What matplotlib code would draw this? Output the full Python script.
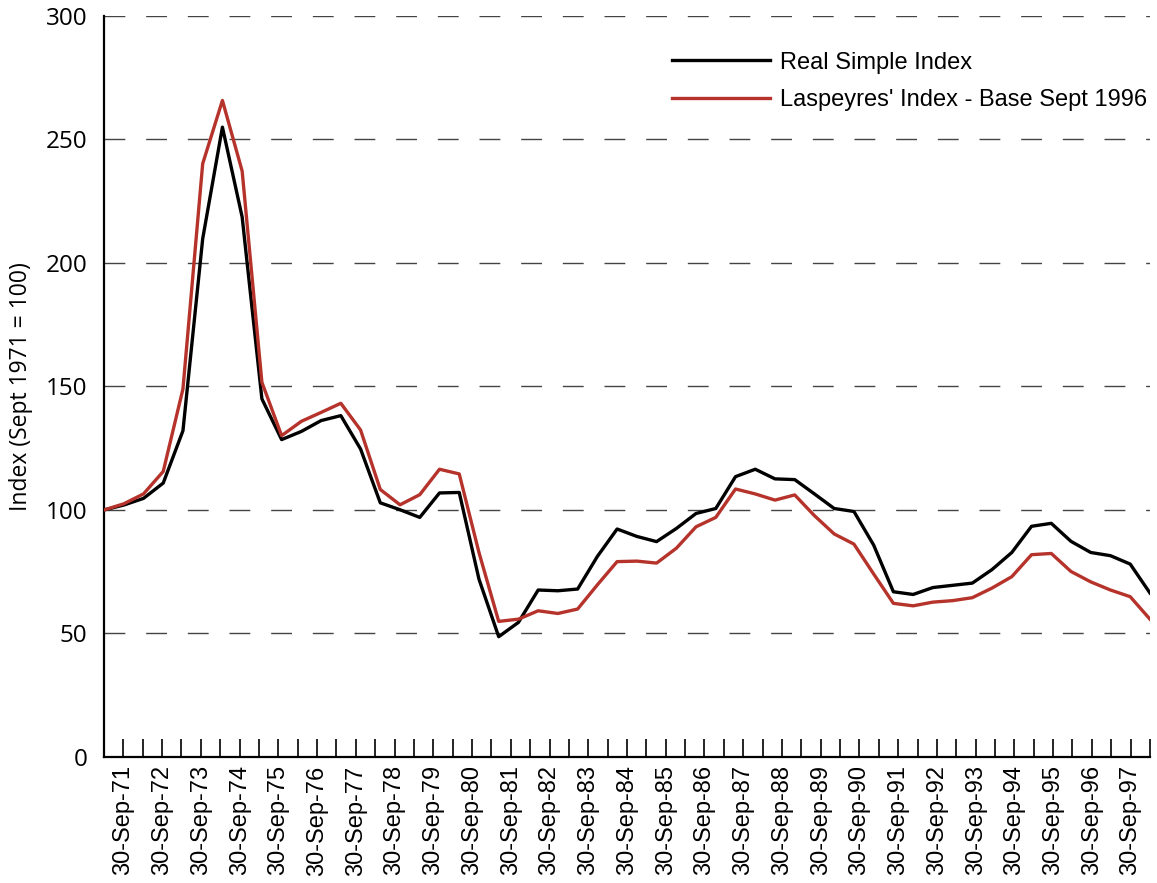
import numpy as np
import matplotlib
matplotlib.use("Agg")
import matplotlib.pyplot as plt

# semi-annual observations, first point = Sept 1971 = 100
real_simple = [100, 102.0, 104.7, 110.9, 132.1, 209.8, 255.0, 218.6, 145.0, 128.5,
               131.8, 136.2, 138.2, 124.7, 102.9, 100.1, 97.0, 106.9, 107.1, 72.0,
               48.7, 54.5, 67.6, 67.3, 68.0, 81.2, 92.3, 89.3, 87.2, 92.5,
               98.6, 100.6, 113.5, 116.5, 112.6, 112.3, 106.5, 100.6, 99.4, 85.8,
               66.9, 65.8, 68.6, 69.5, 70.4, 75.9, 82.8, 93.4, 94.6, 87.3,
               82.8, 81.5, 78.1, 66.4]
laspeyres = [100, 102.5, 106.5, 115.6, 149.0, 240.2, 265.8, 237.2, 151.7, 130.1,
             135.9, 139.5, 143.2, 132.4, 108.3, 102.1, 106.2, 116.5, 114.6, 82.8,
             54.9, 55.8, 59.2, 58.1, 59.9, 69.7, 79.1, 79.3, 78.5, 84.5,
             93.2, 97.0, 108.5, 106.5, 104.0, 106.1, 97.7, 90.3, 86.2, 74.1,
             62.2, 61.2, 62.7, 63.3, 64.5, 68.4, 73.0, 81.9, 82.4, 75.1,
             70.9, 67.6, 64.9, 55.8]
year_labels = ["30-Sep-%02d" % y for y in range(71, 98)]

n = len(real_simple)
x = np.arange(n)

fig = plt.figure(figsize=(11.57, 8.83), dpi=100)
ax = fig.add_axes([0.0899, 0.1427, 0.904, 0.8392])

ax.plot(x, real_simple, color="black", lw=2.4, label="Real Simple Index", zorder=3)
ax.plot(x, laspeyres, color="#B5332B", lw=2.4, label="Laspeyres' Index - Base Sept 1996", zorder=3)

ax.set_xlim(0, n - 1)
ax.set_ylim(0, 300)
ax.set_yticks(np.arange(0, 301, 50))
ax.yaxis.grid(True, color="#444444", lw=1.0, dashes=(15, 15))
ax.set_axisbelow(True)

# category ticks (55 positions across the axis), year labels on every other one
nt = 2 * len(year_labels) + 1
tick_pos = np.arange(nt) * (n - 1) / (nt - 1)
ax.set_xticks(tick_pos[1:])
lab = []
for k in range(1, nt):
    lab.append(year_labels[(k - 1) // 2] if k % 2 == 1 else "")
ax.set_xticklabels(lab, rotation=90, fontsize=17, family="Liberation Sans")
ax.tick_params(axis="x", direction="in", length=13, width=1.2, pad=6)
ax.tick_params(axis="y", length=0, labelsize=17.5, pad=12)
for t in ax.get_yticklabels():
    t.set_family("Open Sans")

for s in ["top", "right"]:
    ax.spines[s].set_visible(False)
for s in ["left", "bottom"]:
    ax.spines[s].set_linewidth(1.6)

ax.set_ylabel("Index (Sept 1971 = 100)", fontsize=16.5, family="Open Sans", labelpad=9)

leg = ax.legend(loc="upper left", bbox_to_anchor=(0.543, 0.952), frameon=False,
                borderpad=0, borderaxespad=0,
                handlelength=4.15, handletextpad=0.42, labelspacing=0.65,
                prop={"family": "Liberation Sans", "size": 17})

fig.savefig("out.png", dpi=100)
